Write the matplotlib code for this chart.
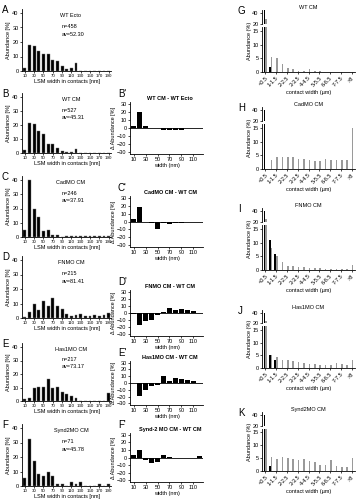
import numpy as np
import matplotlib.pyplot as plt

plt.rcParams['font.family'] = ['Liberation Sans', 'DejaVu Sans']

# ---- data ----
# left column: LSM width in contacts, 10 nm bins
bins = [10, 20, 30, 40, 50, 60, 70, 80, 90, 100, 110, 120, 130, 140, 150, 160, 170, 180, 190]
wt_ecto = [2.0, 17.8, 17.4, 13.7, 11.9, 11.4, 7.5, 6.9, 3.4, 1.1, 2.3, 5.7, 0, 0, 0, 0, 0, 0, 0]
wt_cm = [2.0, 21.7, 20.5, 15.5, 13.8, 6.2, 6.2, 3.6, 1.4, 1.0, 1.0, 2.6, 0, 0, 0, 0, 0, 0, 0]
cad_cm = [4.7, 40.0, 20.0, 14.0, 4.0, 4.7, 1.6, 1.6, 0, 0.4, 0.4, 0.4, 0.4, 0.4, 0.4, 0.4, 0.4, 0.4, 0.4]
fn_cm = [1.0, 4.2, 9.8, 5.3, 11.6, 8.1, 13.5, 8.1, 6.5, 2.6, 1.4, 1.9, 2.6, 1.4, 1.4, 1.9, 1.4, 2.0, 3.5]
has_cm = [1.5, 2.4, 9.8, 10.7, 10.7, 16.0, 9.8, 10.5, 6.8, 4.9, 3.9, 2.0, 0, 0, 0, 0, 0, 0, 6.0]
synd_cm = [5.6, 32.4, 16.9, 8.5, 7.0, 9.9, 7.0, 1.4, 1.4, 0, 2.8, 1.4, 2.8, 0, 0, 0, 1.4, 0, 1.4]

# middle column: differences in abundance
diff_bins = [10, 20, 30, 40, 50, 60, 70, 80, 90, 100, 110, 120]
b_diff = [2, 20, 2, 0.3, 0.3, -3, -3, -3, -3, -0.5, -0.5, -0.5]
c_diff = [2.7, 18.3, -0.5, -1.5, -9.8, -1.5, -3.0, -2.0, -2.0, -1.0, -0.6, -0.5]
d_diff = [-1, -17.5, -10.7, -10.2, -2.2, 1.9, 7.3, 4.5, 5.1, 4.0, 3.0, -0.7]
e_diff = [-0.5, -19.3, -10.7, -4.8, -3.1, 9.8, 3.6, 6.9, 5.4, 3.9, 2.9, -0.6]
f_diff = [3.6, 10.3, -3.8, -6.9, -6.4, 3.6, 1.2, -0.5, -0.5, -1.0, -0.8, 1.5]

# right column: contact width (um)
cw_labels = ['<0.5', '0.5-1', '1-1.5', '1.5-2', '2-2.5', '2.5-3', '3-3.5', '3.5-4', '4-4.5',
             '4.5-5', '5-5.5', '5.5-6', '6-6.5', '6.5-7', '7-7.5', '7.5-8', '>8']
wt_black = [45, 2, 0, 0, 0, 0, 0, 0, 0, 0, 0, 0, 0, 0, 0, 0, 0]
wt_gray = [30, 5.5, 5.0, 3.0, 1.5, 1.0, 0.5, 0.5, 1.0, 0.5, 0.3, 0, 0, 0, 0, 0, 0]
cad_black = [40, 0, 0, 0, 0, 0, 0, 0, 0, 0, 0, 0, 0, 0, 0, 0, 0]
cad_gray = [0, 3.4, 4.3, 4.3, 4.6, 4.6, 3.8, 3.8, 3.4, 2.8, 2.8, 3.8, 3.2, 3.2, 3.4, 3.4, 15]
fn_black = [40, 11, 6, 0, 0, 0, 0, 0, 0, 0, 0, 0, 0, 0, 0, 0, 0]
fn_gray = [25, 8, 5, 3, 1.5, 1.5, 1.2, 1.2, 0.8, 0.8, 0.8, 0.5, 0.5, 0.5, 0.5, 0.5, 2.0]
has_black = [40, 5, 3, 0, 0, 0, 0, 0, 0, 0, 0, 0, 0, 0, 0, 0, 0]
has_gray = [25, 5, 4.5, 3.0, 3.0, 2.7, 2.5, 1.8, 1.5, 1.5, 1.3, 1.3, 1.3, 2.0, 1.5, 1.0, 3.0]
synd_black = [40, 2, 0, 0, 0, 0, 0, 0, 0, 0, 0, 0, 0, 0, 0, 0, 0]
synd_gray = [20, 5.5, 4.5, 5.3, 5.0, 4.7, 4.2, 4.5, 3.8, 3.6, 2.5, 2.5, 4.2, 2.0, 1.7, 1.7, 5.0]

W, H = 357, 500
fig = plt.figure(figsize=(3.57, 5.0), dpi=100)
fs = 4


def box(x0, y0, x1, y1):
    return fig.add_axes([x0 / W, 1 - y1 / H, (x1 - x0) / W, (y1 - y0) / H])


def style(ax, xfs=fs):
    for s in ['top', 'right']:
        ax.spines[s].set_visible(False)
    for s in ['left', 'bottom']:
        ax.spines[s].set_linewidth(0.6)
    ax.tick_params(labelsize=fs, width=0.5, length=1.5, pad=1)
    ax.tick_params(axis='x', labelsize=xfs)


# ---- left column ----
left = [
    ('A', wt_ecto, 'WT Ecto', 'n=458', 'av=52.30', 71, 13),
    ('B', wt_cm, 'WT CM', 'n=527', 'av=45.31', 153, 97),
    ('C', cad_cm, 'CadMO CM', 'n=246', 'av=37.91', 237, 180),
    ('D', fn_cm, 'FNMO CM', 'n=215', 'av=81.41', 318, 260),
    ('E', has_cm, 'Has1MO CM', 'n=217', 'av=73.17', 401, 347),
    ('F', synd_cm, 'Synd2MO CM', 'n=71', 'av=45.78', 486, 428),
]
for letter, vals, title, n, av, y0, y40 in left:
    ppu = (y0 - y40) / 40
    top = y0 - 43 * ppu
    ax = box(22, top, 111, y0)
    x = np.arange(len(bins))
    ax.bar(x, vals, width=0.62, color='black', edgecolor='#777777', linewidth=0.3)
    ax.set_xlim(-0.6, 18.5)
    ax.set_ylim(0, 43)
    ax.set_yticks([0, 10, 20, 30, 40])
    ax.set_xticks(x[::2])
    ax.set_xticklabels([str(b) for b in bins[::2]])
    ax.set_ylabel('Abundance [%]', fontsize=fs, labelpad=1)
    ax.set_xlabel('LSM width in contacts [nm]', fontsize=fs, labelpad=0.5)
    style(ax, xfs=3.2)
    ax.text(0.55, 0.93, title, transform=ax.transAxes, fontsize=fs, ha='center', va='top')
    ax.text(0.45, 0.75, n, transform=ax.transAxes, fontsize=fs, ha='left', va='top')
    ax.text(0.45, 0.63, av, transform=ax.transAxes, fontsize=fs, ha='left', va='top')
    fig.text(2 / W, 1 - (top - 4) / H, letter, fontsize=7, va='top')

# ---- middle column ----
mid = [
    ("B'", b_diff, 'WT CM - WT Ecto', 104, 152),
    ("C'", c_diff, 'CadMO CM - WT CM', 198, 245),
    ("D'", d_diff, 'FNMO CM - WT CM', 292, 334),
    ("E'", e_diff, 'Has1MO CM - WT CM', 363, 403),
    ("F'", f_diff, 'Synd-2 MO CM - WT CM', 435, 480),
]
for letter, vals, title, y30, ym30 in mid:
    ax = box(130, y30 - 2, 203, ym30 + 2)
    x = np.arange(len(diff_bins))
    ax.bar(x, vals, width=0.75, color='black')
    ax.axhline(0, color='black', linewidth=0.6)
    ax.set_xlim(-0.6, 11.6)
    ax.set_ylim(-32.5, 32.5)
    ax.set_yticks([30, 20, 10, 0, -10, -20, -30])
    ax.set_xticks(x[::2])
    ax.set_xticklabels([str(b) for b in diff_bins[::2]])
    ax.set_ylabel('Δ Abundance [%]', fontsize=fs, labelpad=0.5)
    ax.set_xlabel('width (nm)', fontsize=fs, labelpad=0.5)
    style(ax)
    ax.text(0.55, 1.02, title, transform=ax.transAxes, fontsize=fs, ha='center', va='bottom',
            fontweight='bold')
    fig.text(118 / W, 1 - (y30 - 15) / H, letter, fontsize=7, va='top')

# ---- right column ----
right = [
    ('G', wt_black, wt_gray, 'WT CM', 72, 10),
    ('H', cad_black, cad_gray, 'CadMO CM', 169, 107),
    ('I', fn_black, fn_gray, 'FNMO CM', 270, 208),
    ('J', has_black, has_gray, 'Has1MO CM', 368, 310),
    ('K', synd_black, synd_gray, 'Synd2MO CM', 471, 412),
]
for letter, blk, gry, title, y0, ytop in right:
    split = y0 - (y0 - ytop) * 0.72
    lo = box(262, split, 355, y0)
    hi = box(262, ytop, 355, split - 3)
    x = np.arange(len(cw_labels))
    for a in (lo, hi):
        a.bar(x - 0.17, blk, width=0.3, color='black')
        a.bar(x + 0.17, gry, width=0.3, color='#9a9a9a')
        a.set_xlim(-0.6, 16.6)
        style(a)
    lo.set_ylim(0, 16.5)
    lo.set_yticks([0, 5, 10, 15])
    hi.set_ylim(20, 45)
    hi.set_yticks([20, 40])
    hi.spines['bottom'].set_visible(False)
    hi.set_xticks([])
    lo.set_xticks(x[::2])
    lo.set_xticklabels(cw_labels[::2], rotation=45, ha='right', rotation_mode='anchor')
    lo.set_xlabel('contact width (µm)', fontsize=fs, labelpad=1)
    fig.text(249 / W, 1 - (ytop + (y0 - ytop) / 2) / H, 'Abundance (%)', fontsize=fs,
             rotation=90, ha='center', va='center')
    hi.set_title(title, fontsize=fs, pad=1)
    fig.text(238 / W, 1 - (ytop - 4) / H, letter, fontsize=7, va='top')

fig.savefig('out.png', dpi=100)
